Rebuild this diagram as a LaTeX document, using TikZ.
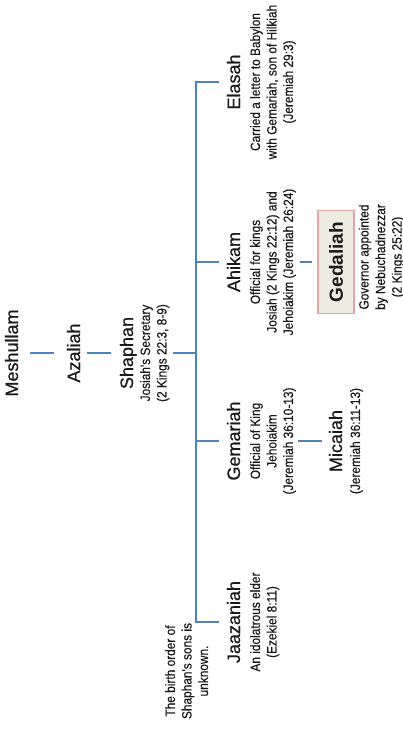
\documentclass[tikz,border=0pt]{standalone}
\usepackage{fontspec}
\setmainfont{Liberation Sans}
\newfontfamily\namesfont[FakeBold=0.6]{Liberation Sans}
\newfontfamily\narrowfont[FakeStretch=0.88,FakeBold=0.5]{Liberation Sans}
\usetikzlibrary{calc}
\definecolor{linkblue}{HTML}{4F81BD}
\definecolor{boxred}{HTML}{E6A5A5}
\definecolor{boxtan}{HTML}{EEECE1}
\definecolor{ink}{HTML}{1A1A1A}
\newcommand{\personfont}{\namesfont\fontsize{18}{21}\selectfont}
\newcommand{\detailfont}{\narrowfont\fontsize{13.5}{16.5}\selectfont}

\begin{document}
\begin{tikzpicture}[x=1pt,y=1pt]
\tikzstyle{person}=[rotate=90,anchor=base,inner sep=2pt,text=ink,font=\personfont]
\tikzstyle{detail}=[rotate=90,anchor=north,inner sep=0pt,align=center,text=ink,font=\detailfont]
\tikzstyle{hilite}=[person,anchor=center,draw=boxred,fill=boxtan,line width=1.2pt,minimum width=103pt,minimum height=36pt,font=\fontsize{19}{22}\selectfont\bfseries]
\tikzstyle{link}=[draw=linkblue,line width=2.5pt]

\useasboundingbox (0,0) rectangle (403,-733);

% line of descent
\node[person] (meshullam) at (18,-353) {Meshullam};
\node[person] (azaliah) at (80,-353) {Azaliah};
\node[person] (shaphan) at (133,-353) {Shaphan};
\node[detail] (shaphaninfo) at ($(shaphan.base)+(7,0)$) {Josiah's Secretary\\(2 Kings 22:3, 8-9)};
\coordinate (fork) at (196,-353);

% sons
\node[person] (elasah) at (240,-82) {Elasah};
\node[detail] (elasahinfo) at ($(elasah.base)+(10,0)$) {Carried a letter to Babylon\\with Gemariah, son of Hilkiah\\(Jeremiah 29:3)};
\node[person] (ahikam) at (240,-262) {Ahikam};
\node[detail] (ahikaminfo) at ($(ahikam.base)+(10,0)$) {Official for kings\\Josiah (2 Kings 22:12) and\\Jehoiakim (Jeremiah 26:24)};
\node[person] (gemariah) at (240,-441) {Gemariah};
\node[detail] (gemariahinfo) at ($(gemariah.base)+(10,0)$) {Official of King\\Jehoiakim\\(Jeremiah 36:10-13)};
\node[person] (jaazaniah) at (240,-622) {Jaazaniah};
\node[detail] (jaazaniahinfo) at ($(jaazaniah.base)+(10,0)$) {An idolatrous elder\\(Ezekiel 8:11)};
\node[detail] (birthorder) at (165,-671) {The birth order of\\Shaphan's sons is\\unknown.};

% grandsons
\node[hilite] (gedaliah) at (336,-262) {Gedaliah};
\node[detail] (gedaliahinfo) at ($(gedaliah.south)+(4,5)$) {Governor appointed\\by Nebuchadnezzar\\(2 Kings 25:22)};
\node[person] (micaiah) at (342,-441) {Micaiah};
\node[detail] (micaiahinfo) at ($(micaiah.base)+(8,0)$) {(Jeremiah 36:11-13)};

\draw[link,shorten <=10pt,shorten >=11pt] (meshullam) -- (azaliah);
\draw[link,shorten <=5pt,shorten >=7pt] (azaliah) -- (shaphan);
\draw[link,shorten <=4pt] (shaphaninfo) -- (fork);
\foreach \kid in {elasah,ahikam,gemariah,jaazaniah}
  \draw[link,shorten <=6pt] (\kid) -| (fork);
\draw[link,shorten <=4pt,shorten >=5pt] (ahikaminfo) -- (gedaliah);
\draw[link,shorten <=2pt,shorten >=5pt] (gemariahinfo) -- (micaiah);
\end{tikzpicture}
\end{document}
